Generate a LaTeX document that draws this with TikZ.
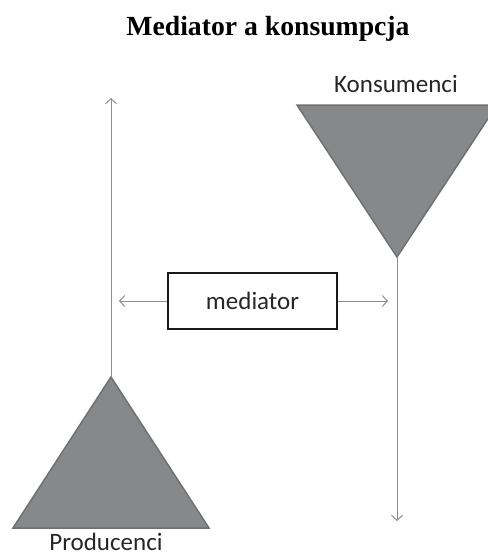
\documentclass[tikz,border=0pt]{standalone}
\usepackage{fontspec}
\setmainfont{Liberation Serif}
\newfontfamily\labfont{Carlito}
\usetikzlibrary{arrows.meta}
\definecolor{trifill}{HTML}{87888A}
\definecolor{tridraw}{HTML}{6E7072}
\definecolor{linegray}{HTML}{8E8E8E}
\begin{document}
\begin{tikzpicture}[x=1pt,y=-1pt,
  tri/.style={fill=trifill,draw=tridraw,line width=1.5pt,line join=miter},
  conn/.style={draw=linegray,line width=1pt,-{Straight Barb[length=5pt,width=11pt,line width=1pt]}},
  lab/.style={font=\labfont\fontsize{25}{28}\selectfont,text=black!85,inner sep=0pt},
  medbox/.style={draw=black!90,line width=2pt,minimum width=169pt,minimum height=56pt,inner sep=0pt,font=\labfont\fontsize{25}{28}\selectfont,text=black!85}]
\useasboundingbox (0,0) rectangle (488,558);
\clip (0,0) rectangle (488,558);
\node[inner sep=0pt,anchor=base,font=\bfseries\fontsize{27.7}{30}\selectfont] (title) at (268,35) {Mediator a konsumpcja};
% upper triangle (consumers)
\coordinate (capex) at (397,257);
\draw[tri] (297,105) -- (497,105) -- (capex) -- cycle;
\node[lab,anchor=base] (kons) at (396,92) {Konsumenci};
% lower triangle (producers)
\coordinate (papex) at (111,377);
\draw[tri] (papex) -- (209,528) -- (13,528) -- cycle;
\node[lab,anchor=base] (prod) at (106,550) {Producenci};
% vertical connectors
\coordinate (ptop) at (111,98);
\coordinate (cbot) at (397,521);
\draw[conn] (papex) -- (ptop);
\draw[conn] (capex) -- (cbot);
% mediator
\node[medbox] (med) at (252.5,301) {mediator};
\coordinate (mleft) at (119,301);
\coordinate (mright) at (388,301);
\draw[conn] (med.west) -- (mleft);
\draw[conn] (med.east) -- (mright);
\end{tikzpicture}
\end{document}
